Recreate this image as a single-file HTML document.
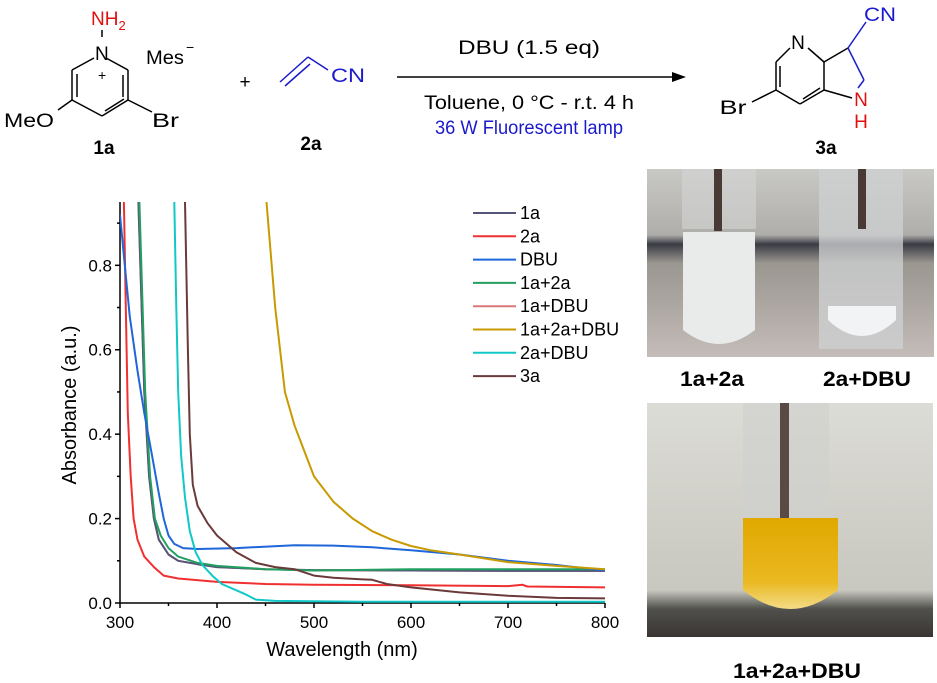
<!DOCTYPE html>
<html><head><meta charset="utf-8"><style>
body{margin:0;background:#fff;}
svg{display:block;font-family:"Liberation Sans",Arial,sans-serif;}
</style></head><body>
<svg width="937" height="683" viewBox="0 0 937 683">
<!-- Reaction scheme -->
<g stroke="#000" stroke-width="1.5" fill="none">
  <g>
    <line x1="106" y1="58" x2="128" y2="70"/><line x1="128" y1="70" x2="128" y2="100"/>
    <line x1="128" y1="100" x2="102" y2="116"/><line x1="102" y1="116" x2="72" y2="100"/>
    <line x1="72" y1="100" x2="72" y2="70"/><line x1="72" y1="70" x2="94" y2="58"/>
    <line x1="123" y1="75" x2="123" y2="97"/><line x1="77" y1="74" x2="77" y2="97"/>
    <line x1="105" y1="111" x2="124" y2="99"/>
    <line x1="102" y1="30" x2="102" y2="37"/>
    <line x1="128" y1="100" x2="152" y2="112"/><line x1="72" y1="100" x2="58" y2="110"/>
  </g>
  <g stroke="#1a1acc">
    <line x1="280" y1="82" x2="308" y2="57"/><line x1="285" y1="86" x2="310" y2="64"/>
    <line x1="308" y1="57" x2="328" y2="70"/>
  </g>
  <g>
    <line x1="790" y1="48" x2="776" y2="62"/><line x1="776" y1="62" x2="776" y2="90"/>
    <line x1="776" y1="90" x2="800" y2="104"/><line x1="800" y1="104" x2="824" y2="90"/>
    <line x1="824" y1="90" x2="824" y2="62"/><line x1="824" y1="62" x2="808" y2="48"/>
    <line x1="780" y1="66" x2="780" y2="87"/><line x1="803" y1="99" x2="820" y2="88"/>
    <line x1="776" y1="90" x2="752" y2="102"/>
    <line x1="824" y1="62" x2="848" y2="48"/>
    <line x1="824" y1="90" x2="852" y2="98"/>
    <line x1="848" y1="48" x2="864" y2="80" stroke="#1a1acc"/>
    <line x1="864" y1="80" x2="858" y2="88" stroke="#1a1acc"/>
    <line x1="848" y1="48" x2="866" y2="22" stroke="#1a1acc"/>
  </g>
  <line x1="397" y1="77" x2="676" y2="77"/>
  <polygon points="686,77 672,72 672,82" fill="#000" stroke="none"/>
</g>
<g font-size="19">
  <text x="91" y="25" fill="#e01010">NH<tspan font-size="13" dy="5">2</tspan></text>
  <text x="95" y="60">N</text>
  <text x="98" y="80" font-size="14">+</text>
  <text x="146" y="64" textLength="38" lengthAdjust="spacingAndGlyphs">Mes</text>
  <text x="186" y="52" font-size="14">−</text>
  <text x="4" y="127" textLength="50" lengthAdjust="spacingAndGlyphs">MeO</text>
  <text x="152" y="127" textLength="27" lengthAdjust="spacingAndGlyphs">Br</text>
  <text x="104" y="154" text-anchor="middle" font-weight="bold">1a</text>
  <text x="245" y="88" text-anchor="middle">+</text>
  <text x="348" y="82" text-anchor="middle" fill="#1a1acc" textLength="34" lengthAdjust="spacingAndGlyphs">CN</text>
  <text x="311" y="150" text-anchor="middle" font-weight="bold">2a</text>
  <text x="529" y="54" text-anchor="middle" textLength="142" lengthAdjust="spacingAndGlyphs">DBU (1.5 eq)</text>
  <text x="529" y="109" text-anchor="middle" textLength="210" lengthAdjust="spacingAndGlyphs">Toluene, 0 °C - r.t. 4 h</text>
  <text x="529" y="134" text-anchor="middle" fill="#1a1acc" textLength="188" lengthAdjust="spacingAndGlyphs">36 W Fluorescent lamp</text>
  <text x="798" y="49" text-anchor="middle">N</text>
  <text x="880" y="21" text-anchor="middle" fill="#1a1acc" textLength="32" lengthAdjust="spacingAndGlyphs">CN</text>
  <text x="733" y="114" text-anchor="middle" textLength="27" lengthAdjust="spacingAndGlyphs">Br</text>
  <text x="861" y="106" text-anchor="middle" fill="#e01010">N</text>
  <text x="861" y="128" text-anchor="middle" fill="#e01010">H</text>
  <text x="826" y="154" text-anchor="middle" font-weight="bold">3a</text>
</g>

<g id="chart"></g>

<!-- Photos -->
<defs>
  <linearGradient id="bg1" x1="0" y1="0" x2="0" y2="1"><stop offset="0" stop-color="#c8c8c4"/><stop offset="0.35" stop-color="#b0aeab"/><stop offset="0.4" stop-color="#3a3c44"/><stop offset="0.5" stop-color="#9a9690"/><stop offset="1" stop-color="#c4bcb8"/></linearGradient>
  <linearGradient id="bg3" x1="0" y1="0" x2="0" y2="1"><stop offset="0" stop-color="#dcdcd6"/><stop offset="0.8" stop-color="#c8c8c0"/><stop offset="0.88" stop-color="#50504c"/><stop offset="1" stop-color="#3a3532"/></linearGradient>
  <linearGradient id="yel" x1="0" y1="0" x2="0" y2="1"><stop offset="0" stop-color="#e0a800"/><stop offset="0.7" stop-color="#eab820"/><stop offset="1" stop-color="#f3dc88"/></linearGradient>
</defs>
<g>
  <rect x="647" y="169" width="145" height="188" fill="url(#bg1)"/>
  <rect x="682" y="169" width="74" height="60" fill="#d4d6d6" opacity="0.6"/>
  <path d="M683 232 L755 232 L755 330 Q719 358 683 330 Z" fill="#e8ebea"/>
  <rect x="714" y="169" width="8" height="62" fill="#4a3a36"/>
</g>
<g>
  <rect x="792" y="169" width="142" height="188" fill="url(#bg1)"/>
  <rect x="819" y="169" width="84" height="180" fill="#cfd2d3" opacity="0.75"/>
  <rect x="858" y="169" width="8" height="60" fill="#4a3a36"/>
  <path d="M828 306 L896 306 L896 320 Q862 352 828 320 Z" fill="#f2f3f4"/>
</g>
<text x="712" y="386" text-anchor="middle" font-size="21" font-weight="bold" textLength="64" lengthAdjust="spacingAndGlyphs">1a+2a</text>
<text x="867" y="386" text-anchor="middle" font-size="21" font-weight="bold" textLength="88" lengthAdjust="spacingAndGlyphs">2a+DBU</text>
<g>
  <rect x="647" y="403" width="286" height="234" fill="url(#bg3)"/>
  <rect x="743" y="403" width="86" height="160" fill="#cfd1cd" opacity="0.6"/>
  <rect x="780" y="403" width="9" height="118" fill="#5a4a44"/>
  <path d="M743 518 L838 518 L838 590 Q790 628 743 590 Z" fill="url(#yel)"/>
</g>
<text x="797" y="678" text-anchor="middle" font-size="21" font-weight="bold" textLength="128" lengthAdjust="spacingAndGlyphs">1a+2a+DBU</text>
</svg>
<script>
const xTicks=[300,400,500,600,700,800];
const yTicks=[0.0,0.2,0.4,0.6,0.8];
const yTickLabels=["0.0","0.2","0.4","0.6","0.8"];
const seriesNames=["1a","2a","DBU","1a+2a","1a+DBU","1a+2a+DBU","2a+DBU","3a"];
const seriesColors=["#55557a","#f03030","#1f66d8","#22a060","#d87878","#c89a00","#10c8c8","#6a3a3a"];
const wl_1a=[319,325,330,335,340,350,360,380,400,450,500,600,700,800];
const ab_1a=[0.95,0.5,0.3,0.2,0.15,0.115,0.1,0.092,0.085,0.08,0.078,0.077,0.076,0.076];
const wl_2a=[304,306,308,311,314,318,325,335,345,360,400,450,500,600,700,715,720,800];
const ab_2a=[0.95,0.7,0.45,0.3,0.2,0.15,0.11,0.085,0.065,0.058,0.05,0.045,0.043,0.042,0.04,0.043,0.039,0.037];
const wl_dbu=[300,305,310,318,325,333,340,345,350,356,365,380,420,480,520,560,600,650,700,750,800];
const ab_dbu=[0.92,0.8,0.68,0.55,0.45,0.35,0.26,0.2,0.16,0.14,0.13,0.128,0.13,0.137,0.136,0.132,0.125,0.115,0.1,0.09,0.077];
const wl_1a2a=[320,326,331,336,342,350,360,380,400,450,500,600,700,800];
const ab_1a2a=[0.95,0.5,0.3,0.2,0.16,0.13,0.11,0.095,0.088,0.08,0.077,0.08,0.08,0.08];
const wl_1adbu=[319,325,330,335,340,350,360,380,400,450,500,600,700,800];
const ab_1adbu=[0.95,0.5,0.3,0.2,0.15,0.115,0.1,0.092,0.085,0.08,0.078,0.077,0.076,0.076];
const wl_all=[451,460,470,480,500,520,540,560,580,600,620,650,700,750,800];
const ab_all=[0.95,0.7,0.5,0.42,0.3,0.24,0.2,0.17,0.15,0.135,0.125,0.115,0.097,0.088,0.08];
const wl_2adbu=[356,358,360,363,367,372,378,385,395,405,420,430,440,460,550,800];
const ab_2adbu=[0.95,0.7,0.5,0.35,0.25,0.17,0.12,0.09,0.065,0.045,0.03,0.02,0.008,0.005,0.003,0.003];
const wl_3a=[367,370,372,375,380,390,400,420,440,460,480,500,520,550,560,575,600,650,700,750,800];
const ab_3a=[0.95,0.6,0.4,0.28,0.23,0.19,0.16,0.12,0.095,0.085,0.08,0.065,0.06,0.056,0.055,0.045,0.037,0.025,0.017,0.012,0.011];
const seriesX=[wl_1a,wl_2a,wl_dbu,wl_1a2a,wl_1adbu,wl_all,wl_2adbu,wl_3a];
const seriesY=[ab_1a,ab_2a,ab_dbu,ab_1a2a,ab_1adbu,ab_all,ab_2adbu,ab_3a];
const drawOrder=[4,0,3,1,2,5,6,7];

const NS="http://www.w3.org/2000/svg";
const X0=120,X1=605,Y0=603,YTOP=202,XMIN=300,XMAX=800,YMIN=0,YMAX=0.95;
const sx=v=>X0+(v-XMIN)/(XMAX-XMIN)*(X1-X0);
const sy=v=>Y0-(v-YMIN)/(YMAX-YMIN)*(Y0-YTOP);
const g=document.getElementById('chart');
function mk(tag,attrs,parent){const e=document.createElementNS(NS,tag);for(const k in attrs)e.setAttribute(k,attrs[k]);(parent||g).appendChild(e);return e;}

const clip=mk('clipPath',{id:'plotclip'});
mk('rect',{x:X0,y:YTOP,width:X1-X0+2,height:Y0-YTOP+2},clip);

const axes=mk('g',{stroke:'#000','stroke-width':1.5,fill:'none'});


const xa=mk('line',{x1:X0,y1:Y0,x2:X1,y2:Y0},axes);


const ya=mk('line',{x1:X0,y1:Y0,x2:X0,y2:YTOP},axes);


for(let i=0;i<xTicks.length;i++){
  const x=sx(xTicks[i]);
  const t=mk('line',{x1:x,y1:Y0,x2:x,y2:Y0+5},axes);
  
  
  if(i<xTicks.length-1){const m=sx((xTicks[i]+xTicks[i+1])/2);
    const mt=mk('line',{x1:m,y1:Y0,x2:m,y2:Y0+3},axes);
    
    }
  const lb=mk('text',{x:x,y:Y0+25,'text-anchor':'middle','font-size':17});
  lb.textContent=xTicks[i];
  
  
}
for(let i=0;i<yTicks.length;i++){
  const y=sy(yTicks[i]);
  const t=mk('line',{x1:X0-5,y1:y,x2:X0,y2:y},axes);
  
  
  const m=sy(yTicks[i]+0.1);
  if(yTicks[i]+0.1<=YMAX){const mt=mk('line',{x1:X0-3,y1:m,x2:X0,y2:m},axes);
    
    }
  const lb=mk('text',{x:X0-8,y:y+6,'text-anchor':'end','font-size':17});
  lb.textContent=yTickLabels[i];
  
  
}
const xt=mk('text',{x:342,y:656,'text-anchor':'middle','font-size':20});
xt.textContent='Wavelength (nm)';


const yt=mk('text',{x:0,y:0,'text-anchor':'middle','font-size':20,transform:'translate(76,405) rotate(-90)'});
yt.textContent='Absorbance (a.u.)';



const lines=mk('g',{'clip-path':'url(#plotclip)',fill:'none','stroke-width':2,'stroke-linejoin':'round'});
for(const s of drawOrder){
  const xs=seriesX[s],ys=seriesY[s];
  const d=xs.map((v,i)=>(i?'L':'M')+sx(v).toFixed(1)+' '+sy(ys[i]).toFixed(1)).join(' ');
  const p=mk('path',{d:d,stroke:seriesColors[s]},lines);
  
  
}
const leg=mk('g',{});


for(let i=0;i<seriesNames.length;i++){
  const y=213+i*23.3;
  const e=mk('g',{},leg);
  
  
  mk('line',{x1:473,y1:y,x2:516,y2:y,stroke:seriesColors[i],'stroke-width':2},e);
  const t=mk('text',{x:520,y:y+6,'font-size':18},e);
  t.textContent=seriesNames[i];
}
</script>
</body></html>
